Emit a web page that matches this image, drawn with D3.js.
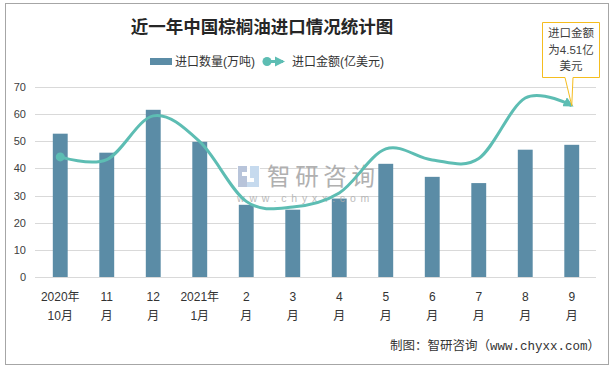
<!DOCTYPE html>
<html>
<head>
<meta charset="utf-8">
<script src="https://cdn.jsdelivr.net/npm/d3@7"></script>
<style>
html,body{margin:0;padding:0;background:#fff;}
svg{display:block;}
text{font-family:"Liberation Sans","Noto Sans CJK SC",sans-serif;}
</style>
</head>
<body>
<script>
// ---- data ----
const categories = ["2020年10月","2020年11月","2020年12月","2021年1月","2021年2月","2021年3月","2021年4月","2021年5月","2021年6月","2021年7月","2021年8月","2021年9月"];
const labelTop = ["2020年","11","12","2021年","2","3","4","5","6","7","8","9"];
const labelBottom = ["10月","月","月","1月","月","月","月","月","月","月","月","月"];
const volume = [52.8, 45.8, 61.6, 49.8, 26.6, 24.8, 28.9, 41.7, 36.9, 34.6, 46.9, 48.7]; // 万吨
const amount = [3.16, 3.09, 4.24, 3.56, 1.99, 1.84, 2.21, 3.37, 3.08, 3.12, 4.71, 4.51]; // 亿美元
const yTicks = [0,10,20,30,40,50,60,70];
const seriesNames = ["进口数量(万吨)","进口金额(亿美元)"];
const title = "近一年中国棕榈油进口情况统计图";
const calloutLines = ["进口金额","为4.51亿","美元"];
const footer = "制图：智研咨询（www.chyxx.com）";

const W = 613, H = 368;
const barColor = "#5b8ca6", lineColor = "#5dbdb3";

const svg = d3.select("body").append("svg").attr("width", W).attr("height", H);

// border
svg.append("rect").attr("x",5.5).attr("y",3.5).attr("width",603).attr("height",361)
  .attr("fill","#fff").attr("stroke","#a6a6a6").attr("stroke-width",1);

const x = d3.scaleBand().domain(categories).range([37, 595]).paddingInner(0.68).paddingOuter(0.34);
const y = d3.scaleLinear().domain([0,70]).range([277, 87]);
const y2 = d3.scaleLinear().domain([0,5]).range([277, 87]);

// gridlines
svg.append("g").selectAll("line").data(yTicks).join("line")
  .attr("x1",35).attr("x2",596)
  .attr("y1",d=>Math.round(y(d))+0.5).attr("y2",d=>Math.round(y(d))+0.5)
  .attr("stroke","#d9d9d9").attr("stroke-width",1);

// y axis labels
const yAxis = d3.axisLeft(y).tickValues(yTicks).tickSize(0).tickPadding(0);
const gy = svg.append("g").attr("transform","translate(26,0)").call(yAxis);
gy.select(".domain").remove();
gy.selectAll("text").attr("font-size",11).attr("fill","#404040");

// bars
svg.append("g").selectAll("rect").data(categories).join("rect")
  .attr("x",d=>x(d)).attr("width",x.bandwidth())
  .attr("y",(d,i)=>y(volume[i])).attr("height",(d,i)=>y(0)-y(volume[i]))
  .attr("fill",barColor);

// watermark (above bars, below line)
const wm = svg.append("g");
wm.append("rect").attr("x",237).attr("y",165).attr("width",23).attr("height",23).attr("fill","#ffffff").attr("opacity",0.9);
wm.append("path").attr("d","M238,166 h9 v6 h-5 v4 h5 v11 h-9 Z").attr("fill","#b8c4da");
wm.append("path").attr("d","M250,166 h9 v21 h-12 v-5 h7 v-4 h-4 Z").attr("fill","#c6daee");
wm.append("text").attr("x",267).attr("y",185).attr("font-size",23.5).attr("fill","#a3a3a3")
  .attr("opacity",0.85).style("font-family","'Noto Sans CJK SC'").attr("textLength",108).text("智研咨询");
wm.append("text").attr("x",237).attr("y",202).attr("font-size",10.5).attr("fill","#b0b0b0")
  .attr("opacity",0.85).attr("letter-spacing","4.8px").text("www.chyxx.com");

// arrow marker
const defs = svg.append("defs");
defs.append("marker").attr("id","arrow").attr("viewBox","0 0 10 10")
  .attr("refX",8).attr("refY",5).attr("markerWidth",3.4).attr("markerHeight",3.4)
  .attr("markerUnits","strokeWidth").attr("orient","auto")
  .append("path").attr("d","M0,0 L10,5 L0,10 Z").attr("fill",lineColor);

// line
const cx = d => x(d) + x.bandwidth()/2;
const line = d3.line().x((d,i)=>cx(categories[i])).y(d=>y2(d)).curve(d3.curveCardinal.tension(0));
svg.append("path").datum(amount).attr("d",line).attr("fill","none")
  .attr("stroke",lineColor).attr("stroke-width",3).attr("marker-end","url(#arrow)");
svg.append("circle").attr("cx",cx(categories[0])).attr("cy",y2(amount[0])).attr("r",4.5).attr("fill",lineColor);

// x labels
const gx = svg.append("g");
categories.forEach((c,i)=>{
  gx.append("text").attr("x",cx(c)).attr("y",301).attr("text-anchor","middle")
    .attr("font-size",12).attr("fill","#333").text(labelTop[i]);
  gx.append("text").attr("x",cx(c)).attr("y",320).attr("text-anchor","middle")
    .attr("font-size",12).attr("fill","#333").text(labelBottom[i]);
});

// title
svg.append("text").attr("x",262).attr("y",33).attr("text-anchor","middle")
  .attr("font-size",17.5).attr("font-weight","bold").attr("fill","#262626")
  .style("font-family","'Noto Sans CJK SC'").text(title);

// legend
const lg = svg.append("g");
lg.append("rect").attr("x",150).attr("y",58).attr("width",22).attr("height",7).attr("fill",barColor);
lg.append("text").attr("x",175).attr("y",66).attr("font-size",12).attr("fill","#333").text(seriesNames[0]);
lg.append("line").attr("x1",267).attr("x2",283).attr("y1",61.5).attr("y2",61.5)
  .attr("stroke",lineColor).attr("stroke-width",3).attr("marker-end","url(#arrow)");
lg.append("circle").attr("cx",267).attr("cy",61.5).attr("r",4.5).attr("fill",lineColor);
lg.append("text").attr("x",292).attr("y",66).attr("font-size",12).attr("fill","#333").text(seriesNames[1]);

// callout
const tipX = cx(categories[11]), tipY = y2(amount[11]);
const bx0 = 542.5, bx1 = 599.5, by0 = 22.5, by1 = 77.5;
svg.append("path")
  .attr("d",`M${bx0},${by0} H${bx1} V${by1} H573 L${tipX},${tipY} L565,${by1} H${bx0} Z`)
  .attr("fill","#fff").attr("stroke","#f5bd1f").attr("stroke-width",1);
calloutLines.forEach((t,i)=>{
  svg.append("text").attr("x",571).attr("y",37+i*16.5).attr("text-anchor","middle")
    .attr("font-size",11.5).attr("fill","#404040").text(t);
});

// footer
svg.append("text").attr("x",600).attr("y",350).attr("text-anchor","end")
  .attr("font-size",12.5).attr("fill","#333")
  .style("font-family","'Liberation Mono','Noto Sans CJK SC',monospace").text(footer);
</script>
</body>
</html>
